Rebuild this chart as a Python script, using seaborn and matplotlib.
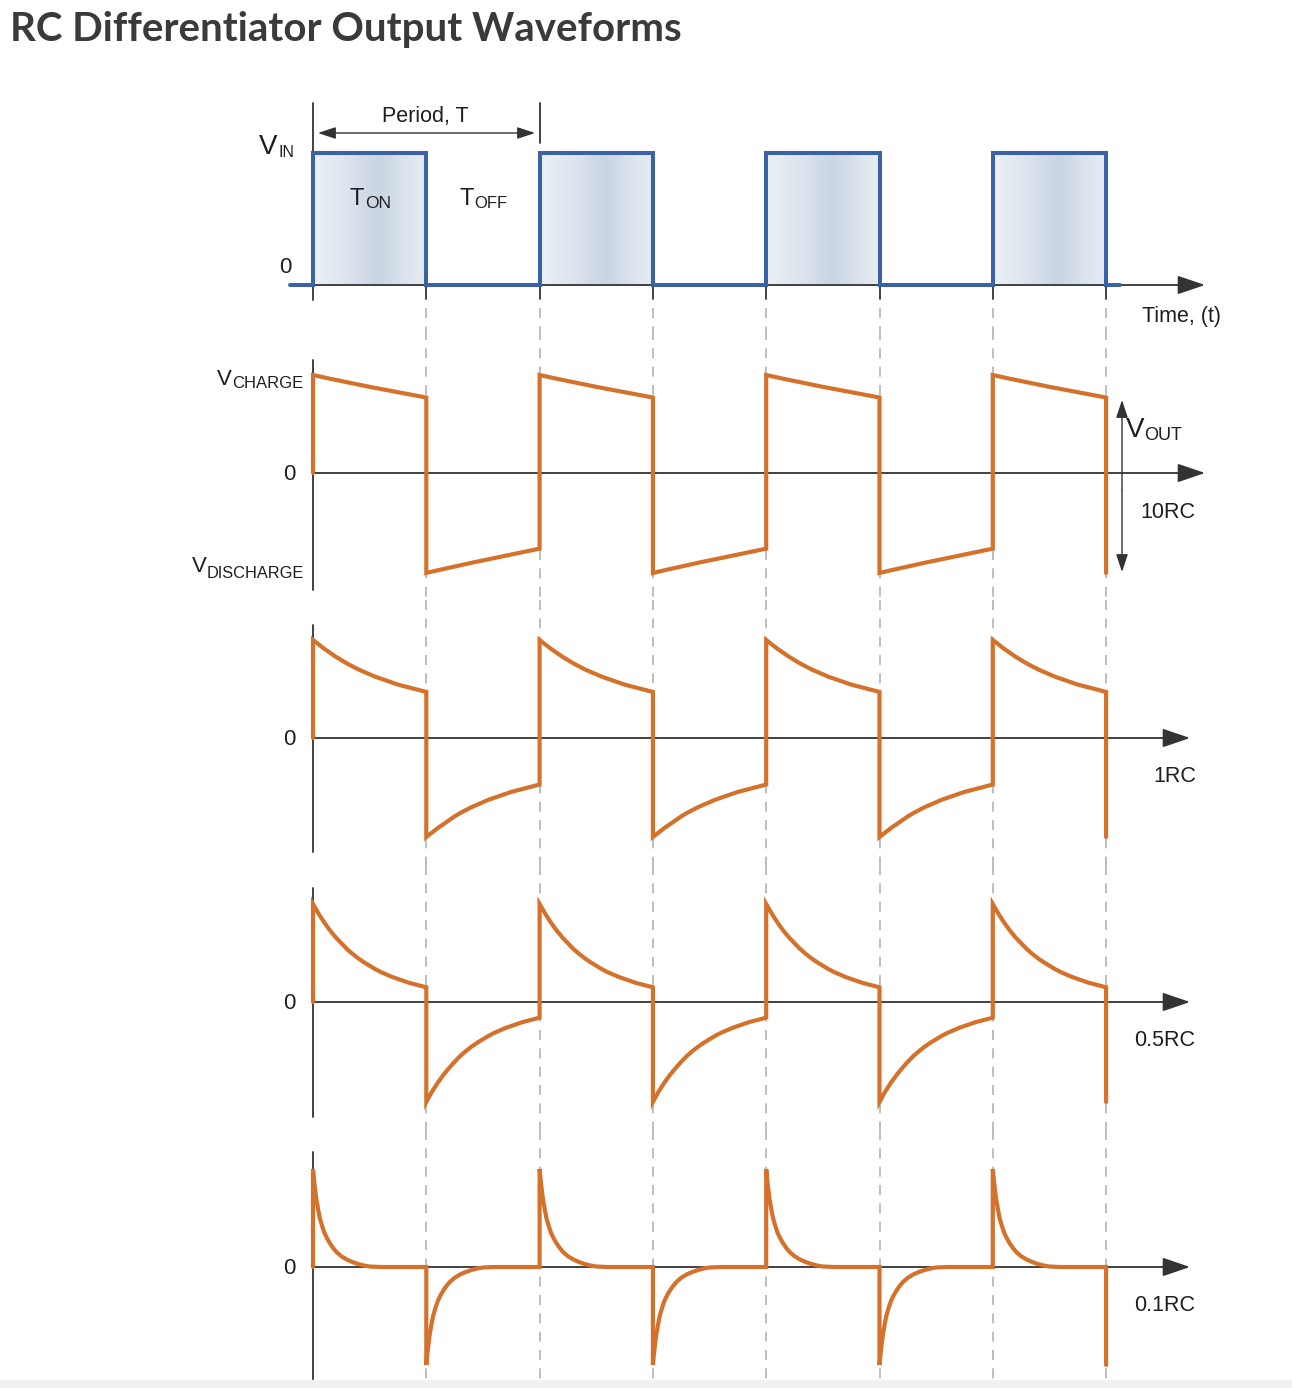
import numpy as np
import pandas as pd
import matplotlib
matplotlib.use('Agg')
import matplotlib.pyplot as plt
import seaborn as sns
from matplotlib.colors import LinearSegmentedColormap

sns.set_style('white')
plt.rcParams['font.family'] = ['Liberation Sans', 'DejaVu Sans']

# input square wave (time in units of T_ON, 1 = V_IN)
vin_t = [-0.2, 0, 0, 1, 1, 2, 2, 3, 3, 4, 4, 5, 5, 6, 6, 7, 7, 7.12]
vin_v = [0, 0, 1, 1, 0, 0, 1, 1, 0, 0, 1, 1, 0, 0, 1, 1, 0, 0]
pulse_starts = [0, 2, 4, 6]
edges = [1, 2, 3, 4, 5, 6, 7]

# output shape over one half period (1 = peak)
frac = [0, .05, .1, .15, .2, .25, .3, .35, .4, .45, .5,
        .55, .6, .65, .7, .75, .8, .85, .9, .95, 1.0]
rc10_pos = [1.00, .987, .975, .962, .95, .938, .926, .914, .902, .89, .879,
            .868, .857, .846, .835, .824, .813, .802, .791, .78, .77]
rc10_neg = [-1.02, -1.006, -.993, -.98, -.967, -.954, -.941, -.928, -.916, -.904, -.892,
            -.88, -.868, -.856, -.844, -.832, -.82, -.808, -.796, -.784, -.772]
rc1_pos = [1.00, .955, .91, .87, .83, .795, .76, .73, .70, .675, .65,
           .625, .605, .585, .565, .545, .53, .515, .50, .485, .47]
rc1_neg = [-1.01, -.965, -.92, -.88, -.84, -.80, -.765, -.735, -.705, -.68, -.655,
           -.63, -.61, -.59, -.57, -.55, -.535, -.52, -.505, -.49, -.475]
rc05_pos = [1.00, .90, .81, .73, .66, .60, .54, .49, .445, .405, .37,
            .335, .305, .28, .255, .235, .215, .195, .18, .165, .15]
rc05_neg = [-1.02, -.915, -.825, -.745, -.675, -.61, -.55, -.50, -.455, -.415, -.38,
            -.345, -.315, -.29, -.265, -.245, -.225, -.205, -.19, -.175, -.16]
frac_fast = [0, .01, .02, .03, .045, .06, .08, .1, .125, .15,
             .18, .21, .25, .3, .35, .4, .45, .5, .6, 1.0]
rc01_pos = [1.00, .88, .78, .69, .59, .50, .42, .35, .29, .24,
            .19, .15, .11, .075, .05, .03, .015, .005, 0, 0]
rc01_neg = [-1.00, -.88, -.78, -.69, -.59, -.50, -.42, -.35, -.29, -.24,
            -.19, -.15, -.11, -.075, -.05, -.03, -.015, -.005, 0, 0]

W, H = 1292, 1388
X0, UNIT = 313, 113.3
BLUE = '#3c62a6'
ORANGE = '#d4722c'
AX = '#333333'
TXT = '#1e1e1e'

fig = plt.figure(figsize=(W / 100, H / 100), dpi=100)


def tx(xpx):
    return (xpx - X0) / UNIT


def make_panel(top, bottom, zero, amp):
    ax = fig.add_axes([0, 1 - bottom / H, 1, (bottom - top) / H])
    ax.axis('off')
    return {'ax': ax, 'top': top, 'bottom': bottom, 'zero': zero, 'amp': amp}


def ty(p, ypx):
    return (p['zero'] - ypx) / p['amp']


def fix_lims(p):
    p['ax'].set_xlim(tx(0), tx(W))
    p['ax'].set_ylim(ty(p, p['bottom']), ty(p, p['top']))


def arrow(ax, start, tip, style='-|>,head_length=1.0,head_width=0.34', ms=17, lw=1.3):
    ax.annotate('', xy=tip, xytext=start,
                arrowprops=dict(arrowstyle=style, mutation_scale=ms, lw=lw,
                                color=AX, shrinkA=0, shrinkB=0), zorder=3)


def ftext(xpx, ypx, s, size=15.5, ha='center', va='baseline', **kw):
    fig.text(xpx / W, 1 - ypx / H, s, fontsize=size, ha=ha, va=va, color=TXT, **kw)


def sub_label(x_main, dx, y_main, y_sub, main, sub, msize=16, ssize=12):
    ftext(x_main, y_main, main, size=msize, ha='left')
    ftext(x_main + dx, y_sub, sub, size=ssize, ha='left')


def dashed(p, y0px, y1px):
    for e in edges:
        p['ax'].plot([e, e], [ty(p, y0px), ty(p, y1px)], color='#b3b3b3', lw=1.2,
                     ls=(0, (6, 5)), zorder=1)


# ---- panel 1: input ----
p1 = make_panel(60, 330, 285, 132)
ax1 = p1['ax']
grad_cmap = LinearSegmentedColormap.from_list(
    'g', [(0, '#ecf0f6'), (0.3, '#dce4ee'), (0.58, '#c9d5e4'), (0.8, '#dae3ed'), (1, '#e7edf4')])
grad = np.linspace(0, 1, 256).reshape(1, -1)
for s in pulse_starts:
    ax1.imshow(grad, extent=(s, s + 1, 0, 1), aspect='auto', cmap=grad_cmap, zorder=1)
dashed(p1, 308, 330)
ax1.plot([0, 0], [ty(p1, 103), ty(p1, 300)], color=AX, lw=1.3, zorder=2)
ax1.plot([2, 2], [ty(p1, 103), ty(p1, 143)], color=AX, lw=1.3, zorder=2)
for e in edges:
    ax1.plot([e, e], [0, ty(p1, 299)], color=AX, lw=1.3, zorder=2)
arrow(ax1, (0, 0), (tx(1205), 0))
arrow(ax1, (tx(318), ty(p1, 133)), (tx(535), ty(p1, 133)),
      style='<|-|>,head_length=0.9,head_width=0.3', ms=12, lw=1.0)
sns.lineplot(x=vin_t, y=vin_v, ax=ax1, color=BLUE, lw=2.9, sort=False,
             estimator=None, zorder=4)
ax1.lines[-1].set_solid_joinstyle('miter')
fix_lims(p1)

# ---- output panels ----
panels = [
    (330, 600, 473, rc10_pos, rc10_neg, frac, 360, 590, 1205),
    (600, 865, 738, rc1_pos, rc1_neg, frac, 625, 852, 1190),
    (865, 1130, 1002, rc05_pos, rc05_neg, frac, 888, 1117, 1190),
    (1130, 1388, 1267, rc01_pos, rc01_neg, frac_fast, 1152, 1380, 1190),
]
for top, bottom, zero, pos, neg, fr, ya, yb, xtip in panels:
    p = make_panel(top, bottom, zero, 98)
    ax = p['ax']
    ts, vs = [0.0], [0.0]
    for k in range(7):
        shape = pos if k % 2 == 0 else neg
        ts += [k + f for f in fr]
        vs += list(shape)
    ts.append(7.0)
    vs.append(neg[0])
    df = pd.DataFrame({'t': ts, 'v': vs})
    dashed(p, top, bottom)
    ax.plot([0, 0], [ty(p, ya), ty(p, yb)], color=AX, lw=1.3, zorder=2)
    arrow(ax, (0, 0), (tx(xtip), 0))
    sns.lineplot(data=df, x='t', y='v', ax=ax, color=ORANGE, lw=3.0, sort=False,
                 estimator=None, zorder=4)
    ax.lines[-1].set_solid_joinstyle('miter')
    if zero == 473:
        arrow(ax, (tx(1122), ty(p, 490)), (tx(1122), ty(p, 400)),
              style='-|>,head_length=0.9,head_width=0.3', ms=12, lw=1.0)
        arrow(ax, (tx(1122), ty(p, 490)), (tx(1122), ty(p, 572)),
              style='-|>,head_length=0.9,head_width=0.3', ms=12, lw=1.0)
    fix_lims(p)

# ---- labels ----
fig.text(10 / W, 1 - 29 / H, 'RC Differentiator Output Waveforms', fontsize=29,
         fontweight='bold', family=['Lato', 'DejaVu Sans'], color='#3a3a3a',
         ha='left', va='center')

sub_label(259, 19, 154, 157, 'V', 'IN', msize=20, ssize=11.5)
sub_label(350, 15, 205, 208, 'T', 'ON', msize=17, ssize=12.5)
sub_label(459, 15, 205, 208, 'T', 'OFF', msize=17, ssize=12)
ftext(425, 122, 'Period, T')
ftext(285, 273, '0', size=16)
ftext(1181, 322, 'Time, (t)')

sub_label(217, 15, 385, 388, 'V', 'CHARGE', msize=16, ssize=12)
sub_label(192, 15, 572, 578, 'V', 'DISCHARGE', msize=16, ssize=11.8)
sub_label(1126, 18, 437, 440, 'V', 'OUT', msize=20, ssize=13)
ftext(289, 480, '0', size=16)
ftext(1168, 518, '10RC')

ftext(289, 745, '0', size=16)
ftext(1175, 782, '1RC')
ftext(289, 1009, '0', size=16)
ftext(1165, 1046, '0.5RC')
ftext(289, 1274, '0', size=16)
ftext(1165, 1311, '0.1RC')

fig.patches.append(plt.Rectangle((0, 0), 1, 8 / H, transform=fig.transFigure,
                                 color='#f1f1f1', zorder=0))

fig.savefig('out.png', dpi=100)
